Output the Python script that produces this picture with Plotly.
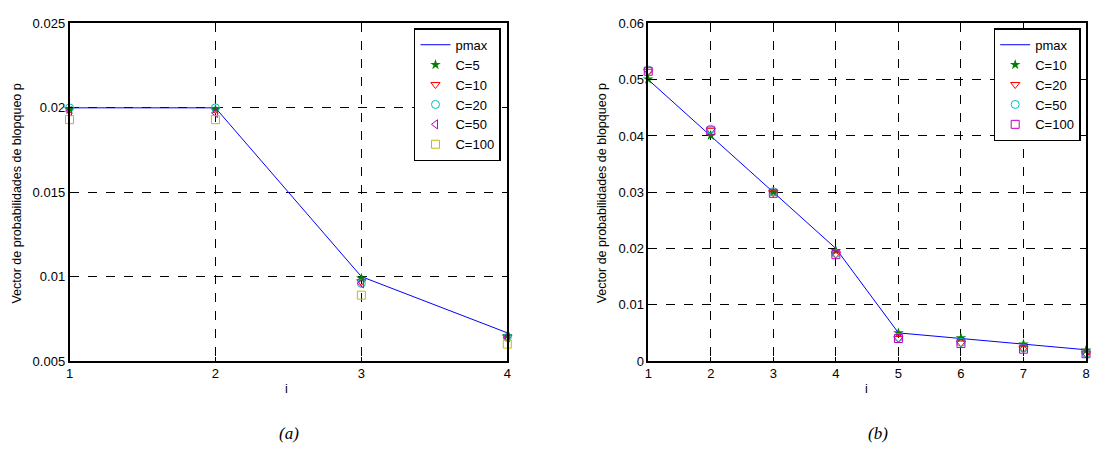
import plotly.graph_objects as go

# ---------- data (a) ----------
xa = [1, 2, 3, 4]
pmax_a = [0.02, 0.02, 0.01, 0.00667]
a_c5 = [0.0199, 0.0199, 0.0099, 0.0065]
a_c10 = [0.0199, 0.0199, 0.0097, 0.0064]
a_c20 = [0.0200, 0.0200, 0.0096, 0.0064]
a_c50 = [0.0198, 0.0197, 0.0096, 0.0064]
a_c100 = [0.0193, 0.0193, 0.0089, 0.0060]
ya_ticks = [0.005, 0.01, 0.015, 0.02, 0.025]
ya_labels = ["0.005", "0.01", "0.015", "0.02", "0.025"]

# ---------- data (b) ----------
xb = [1, 2, 3, 4, 5, 6, 7, 8]
pmax_b = [0.05, 0.04, 0.03, 0.02, 0.005, 0.004, 0.003, 0.002]
b_c10 = [0.0501, 0.0401, 0.0300, 0.0196, 0.0050, 0.0041, 0.0030, 0.0019]
b_c20 = [0.0515, 0.0410, 0.0299, 0.0190, 0.0040, 0.0032, 0.0022, 0.0013]
b_c50 = [0.0517, 0.0412, 0.0301, 0.0191, 0.0042, 0.0033, 0.0023, 0.0014]
b_c100 = [0.0515, 0.0409, 0.0298, 0.0189, 0.0040, 0.0031, 0.0021, 0.0013]
yb_ticks = [0, 0.01, 0.02, 0.03, 0.04, 0.05, 0.06]
yb_labels = ["0", "0.01", "0.02", "0.03", "0.04", "0.05", "0.06"]

FONT = "Liberation Sans"
BLUE = "#0000ff"
GREEN = "#008000"
RED = "#ff0000"
CYAN = "#00bfbf"
MAGENTA = "#bf00bf"
YELLOW = "#bfbf00"

fig = go.Figure()

def line(x, y, xa_, ya_, leg):
    fig.add_trace(go.Scatter(x=x, y=y, mode="lines", name="pmax",
                             line=dict(color=BLUE, width=1),
                             xaxis=xa_, yaxis=ya_, legend=leg, cliponaxis=False))

def marks(x, y, name, symbol, color, xa_, ya_, leg, size=8):
    if symbol == "star":
        mk = dict(symbol="star", size=size, color=color, line=dict(width=0))
    else:
        mk = dict(symbol=symbol, size=size, color=color,
                  line=dict(color=color, width=1))
    fig.add_trace(go.Scatter(x=x, y=y, mode="markers", name=name, marker=mk,
                             xaxis=xa_, yaxis=ya_, legend=leg, cliponaxis=False))

line(xa, pmax_a, "x", "y", "legend")
marks(xa, a_c5, "C=5", "star", GREEN, "x", "y", "legend")
marks(xa, a_c10, "C=10", "triangle-down-open", RED, "x", "y", "legend")
marks(xa, a_c20, "C=20", "circle-open", CYAN, "x", "y", "legend")
marks(xa, a_c50, "C=50", "triangle-left-open", MAGENTA, "x", "y", "legend")
marks(xa, a_c100, "C=100", "square-open", YELLOW, "x", "y", "legend")

line(xb, pmax_b, "x2", "y2", "legend2")
marks(xb, b_c10, "C=10", "star", GREEN, "x2", "y2", "legend2")
marks(xb, b_c20, "C=20", "triangle-down-open", RED, "x2", "y2", "legend2")
marks(xb, b_c50, "C=50", "circle-open", CYAN, "x2", "y2", "legend2")
marks(xb, b_c100, "C=100", "square-open", MAGENTA, "x2", "y2", "legend2")

W, H = 1093, 458
ybot = (H - 366) / H
ytop = (H - 17) / H

axcommon = dict(showline=True, linecolor="black", linewidth=1.5, mirror="ticks",
                ticks="inside", ticklen=4, tickcolor="black",
                showgrid=True, gridcolor="black", griddash="dash", gridwidth=1,
                zeroline=False, tickfont=dict(family=FONT, size=13, color="black"))

fig.update_layout(
    width=W, height=H, margin=dict(l=0, r=0, t=0, b=0),
    paper_bgcolor="white", plot_bgcolor="white",
    font=dict(family=FONT, size=13, color="black"),
    xaxis=dict(domain=[66 / W, 507 / W], range=[1, 4], tickvals=xa,
               ticktext=[str(v) for v in xa], anchor="y", **axcommon),
    yaxis=dict(domain=[ybot, ytop], range=[0.005, 0.025], tickvals=ya_ticks,
               ticktext=ya_labels, anchor="x", **axcommon),
    xaxis2=dict(domain=[649 / W, 1090 / W], range=[1, 8], tickvals=xb,
                ticktext=[str(v) for v in xb], anchor="y2", **axcommon),
    yaxis2=dict(domain=[ybot, ytop], range=[0, 0.06], tickvals=yb_ticks,
                ticktext=yb_labels, anchor="x2", **axcommon),
    legend=dict(x=413 / W, y=1 - 22 / H, xanchor="left", yanchor="top",
                bgcolor="white", bordercolor="black", borderwidth=1.5,
                font=dict(family=FONT, size=13), tracegroupgap=0),
    legend2=dict(x=997 / W, y=1 - 22 / H, xanchor="left", yanchor="top",
                 bgcolor="white", bordercolor="black", borderwidth=1.5,
                 font=dict(family=FONT, size=13), tracegroupgap=0),
    showlegend=True,
)

ann = [
    dict(x=285 / W, y=1 - 395 / H, text="i"),
    dict(x=869 / W, y=1 - 395 / H, text="i"),
    dict(x=13 / W, y=1 - 193 / H, text="Vector de probabilidades de blopqueo p", textangle=-90),
    dict(x=602 / W, y=1 - 193 / H, text="Vector de probabilidades de blopqueo p", textangle=-90),
]
for a in ann:
    fig.add_annotation(xref="paper", yref="paper", showarrow=False,
                       xanchor="center", yanchor="middle",
                       font=dict(family=FONT, size=12.5, color="black"), **a)
for txt, xx in [("<i>(a)</i>", 287), ("<i>(b)</i>", 880)]:
    fig.add_annotation(xref="paper", yref="paper", showarrow=False,
                       x=xx / W, y=1 - 441 / H, text=txt,
                       xanchor="center", yanchor="middle",
                       font=dict(family="Liberation Serif", size=17, color="black"))

fig.write_html("out.html")
